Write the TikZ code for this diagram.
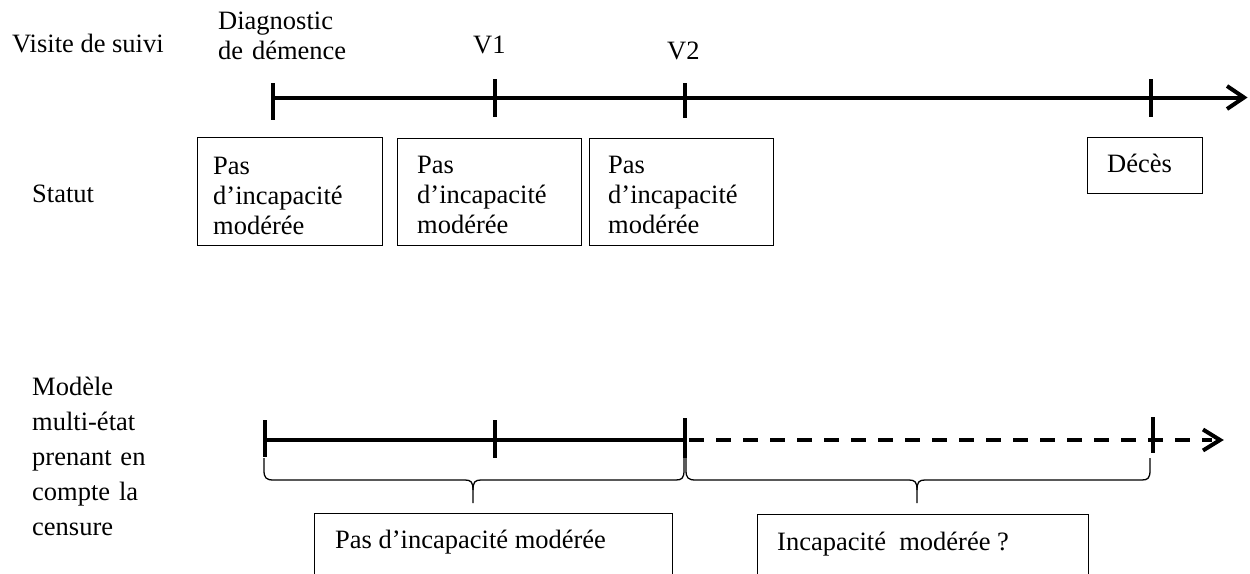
\documentclass[tikz,border=0pt]{standalone}
\usepackage{fontspec}
\setmainfont{Liberation Serif}
\begin{document}
\begin{tikzpicture}[x=1pt,y=-1pt,
  txt/.style={anchor=base west, inner sep=0pt, font=\fontsize{26.5}{30}\selectfont},
  mtxt/.style={txt, text width=170pt, align=left},
  box/.style={draw, line width=1pt, inner sep=0pt, anchor=north west},
  axisline/.style={line width=4pt},
  dashedaxis/.style={line width=4pt, dash pattern=on 15pt off 12pt},
  tickmark/.style={line width=4pt},
  chevron/.style={line width=4pt, miter limit=10},
  bracepath/.style={line width=1.3pt}]
\useasboundingbox (0,0) rectangle (1250,573);
\clip (0,0) rectangle (1250,573);

% ---- labels on the left
\node[txt] (visite) at (12,52) {Visite de suivi};
\node[txt] (statut) at (32,202) {Statut};
\node[mtxt, font=\fontsize{26.5}{35.2}\selectfont] (modele) at (32,395)
  {Modèle\\multi-état\\prenant en\\compte la\\censure};

% ---- top time line
\coordinate (a0) at (273,97.5);
\coordinate (a1) at (495,97.5);
\coordinate (a2) at (685,97.5);
\coordinate (a3) at (1151,97.5);
\coordinate (aend) at (1244,97.5);
\draw[axisline] (a0) -- (aend);
\draw[chevron] (1227,86) -- (aend) -- (1227,109);
\draw[tickmark] (273,83) -- (273,120);
\draw[tickmark] (495,79) -- (495,117);
\draw[tickmark] (685,83) -- (685,118);
\draw[tickmark] (1151,79) -- (1151,117);

\node[mtxt] (diag) at (218,29) {Diagnostic\\de démence};
\node[txt] (v1) at (473,53) {V1};
\node[txt] (v2) at (667,59) {V2};

% ---- status boxes
\node[box, minimum width=185pt, minimum height=108pt] (b1) at (197,137) {};
\node[box, minimum width=184pt, minimum height=107pt] (b2) at (397,138) {};
\node[box, minimum width=184pt, minimum height=107pt] (b3) at (589,138) {};
\node[box, minimum width=115pt, minimum height=56pt] (b4) at (1087,137) {};
\node[mtxt] (s1) at (213,174) {Pas\\d’incapacité\\modérée};
\node[mtxt] (s2) at (417,173) {Pas\\d’incapacité\\modérée};
\node[mtxt] (s3) at (608,173) {Pas\\d’incapacité\\modérée};
\node[txt] (s4) at (1107,172) {Décès};

% ---- bottom time line
\coordinate (c0) at (265,440);
\coordinate (c1) at (495,440);
\coordinate (c2) at (685,440);
\coordinate (c3) at (1153,440);
\coordinate (cend) at (1220,440);
\draw[axisline] (c0) -- (c2);
\draw[dashedaxis] (689,440) -- (1212,440);
\draw[chevron] (1203,429.5) -- (cend) -- (1203,450.5);
\draw[tickmark] (265,420) -- (265,457);
\draw[tickmark] (495,420) -- (495,458);
\draw[tickmark] (685,418) -- (685,458);
\draw[tickmark] (1153,417) -- (1153,453);

% ---- braces
\draw[bracepath] (264,458) -- (264,470) .. controls (264,478) and (266,480) .. (274,480)
  -- (465,480) .. controls (471,480) and (473,482) .. (473,490) -- (473,503);
\draw[bracepath] (473,490) .. controls (473,482) and (475,480) .. (481,480)
  -- (676,480) .. controls (682,480) and (684,478) .. (684,470) -- (684,458);
\draw[bracepath] (686,458) -- (686,470) .. controls (686,478) and (688,480) .. (696,480)
  -- (909,480) .. controls (915,480) and (917,482) .. (917,490) -- (917,503);
\draw[bracepath] (917,490) .. controls (917,482) and (919,480) .. (925,480)
  -- (1142,480) .. controls (1148,480) and (1150,478) .. (1150,470) -- (1150,458);

% ---- bottom result boxes (cut by the page edge)
\node[box, minimum width=358pt, minimum height=80pt] (r1) at (314,513) {};
\node[box, minimum width=331pt, minimum height=80pt] (r2) at (757,514) {};
\node[txt] (rt1) at (335,548) {Pas d’incapacité modérée};
\node[txt] (rt2) at (777,550) {Incapacité\ \ modérée ?};
\end{tikzpicture}
\end{document}
